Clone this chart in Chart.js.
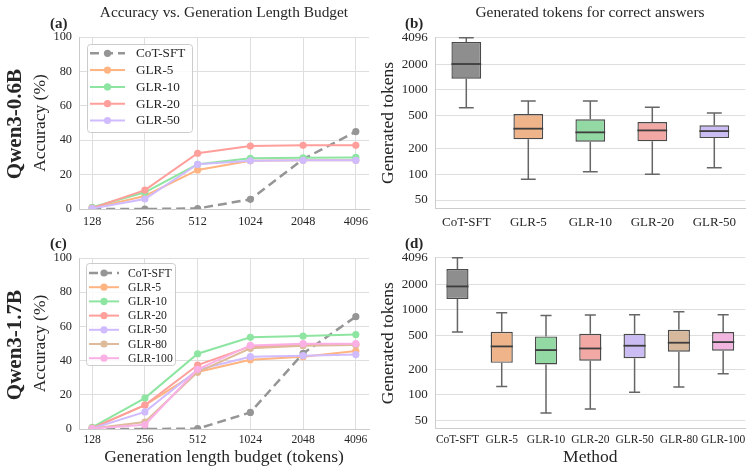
<!DOCTYPE html>
<html><head><meta charset="utf-8">
<script src="https://cdn.jsdelivr.net/npm/chart.js@4.4.1/dist/chart.umd.min.js"></script>
<style>
html,body{margin:0;padding:0;background:#fff;}
#wrap{position:relative;width:752px;height:474px;overflow:hidden;font-family:'Liberation Serif','Times New Roman',serif;color:#262626;}
canvas{position:absolute;}
.t{position:absolute;white-space:nowrap;line-height:1;}
.rot{transform:translate(-50%,-50%) rotate(-90deg);}
</style></head><body>
<div id="wrap">
<canvas id="ca" width="376" height="237" style="left:0;top:0"></canvas>
<canvas id="cb" width="376" height="237" style="left:376px;top:0"></canvas>
<canvas id="cc" width="376" height="237" style="left:0;top:237px"></canvas>
<canvas id="cd" width="376" height="237" style="left:376px;top:237px"></canvas>
<div class="t" style="left:224px;top:3.8px;font-size:15.4px;transform:translateX(-50%)">Accuracy vs. Generation Length Budget</div>
<div class="t" style="left:590px;top:3.8px;font-size:15.4px;transform:translateX(-50%)">Generated tokens for correct answers</div>
<div class="t" style="left:50px;top:16.4px;font-size:15px;font-weight:bold">(a)</div>
<div class="t" style="left:405px;top:16.4px;font-size:15px;font-weight:bold">(b)</div>
<div class="t" style="left:50px;top:236.4px;font-size:15px;font-weight:bold">(c)</div>
<div class="t" style="left:405px;top:236.4px;font-size:15px;font-weight:bold">(d)</div>
<div class="t rot" style="left:13.6px;top:124px;font-size:21px;font-weight:bold">Qwen3-0.6B</div>
<div class="t rot" style="left:13.6px;top:345px;font-size:21px;font-weight:bold">Qwen3-1.7B</div>
</div>
<script>
// ---------- data ----------
const budgets = [128, 256, 512, 1024, 2048, 4096];

const a_cot   = [0, 0, 0.3, 5.6, 29, 45];
const a_glr5  = [0.5, 7.6, 22.7, 28, 28.3, 28.3];
const a_glr10 = [1, 9.7, 26, 29.5, 29.8, 30];
const a_glr20 = [0.5, 11, 32.4, 36.6, 37, 37];
const a_glr50 = [0.3, 5.8, 26, 28, 28.3, 28.3];

const c_cot    = [0, 0, 0.2, 9.7, 44.2, 65.7];
const c_glr5   = [0.5, 14, 33.3, 40.5, 42.3, 45.6];
const c_glr10  = [1, 18.1, 44, 53.6, 54.4, 55.2];
const c_glr20  = [0.5, 14, 37.4, 48.3, 49.1, 49.5];
const c_glr50  = [0.3, 10, 34.7, 42.3, 42.9, 43.5];
const c_glr80  = [0.3, 4.1, 33.3, 47.2, 48.7, 49.1];
const c_glr100 = [0.3, 2.5, 34.9, 48.9, 49.9, 49.9];

const methodsB = ['CoT-SFT', 'GLR-5', 'GLR-10', 'GLR-20', 'GLR-50'];
const b_low  = [613, 88, 108, 101, 120];
const b_q1   = [1347, 260, 244, 246, 269];
const b_med  = [2006, 347, 314, 331, 325];
const b_q3   = [3646, 516, 447, 416, 380];
const b_high = [4096, 735, 735, 619, 530];

const methodsD = ['CoT-SFT', 'GLR-5', 'GLR-10', 'GLR-20', 'GLR-50', 'GLR-80', 'GLR-100'];
const d_low  = [547, 125, 61, 68, 107, 124, 177];
const d_q1   = [1336, 238, 228, 252, 270, 321, 330];
const d_med  = [1882, 371, 336, 351, 378, 410, 417];
const d_q3   = [3009, 552, 486, 522, 522, 582, 547];
const d_high = [4096, 923, 859, 867, 875, 948, 875];

const tokenTicks = [50, 100, 200, 500, 1000, 2000, 4096];
const accTicks = [0, 20, 40, 60, 80, 100];

// ---------- styles ----------
const lineColor = {'CoT-SFT':'#959595','GLR-5':'#ffb482','GLR-10':'#8de5a1','GLR-20':'#ff9f9b','GLR-50':'#d0bbff','GLR-80':'#debb9b','GLR-100':'#fab0e4'};
const boxColor  = {'CoT-SFT':'#8e8e8e','GLR-5':'#f0b48b','GLR-10':'#93d9a4','GLR-20':'#f2a8a5','GLR-50':'#cbbcf4','GLR-80':'#d6b89d','GLR-100':'#f1b5df'};
const TXT = '#262626', GRID = '#dedede', SPINE = '#cccccc';
const FAM = "'Liberation Serif','Times New Roman',serif";
Chart.defaults.font.family = FAM;
Chart.defaults.color = TXT;

const boxLegend = {
  id: 'boxLegend',
  afterDatasetsDraw(chart, args, o) {
    if (!o || !o.show) return;
    const ctx = chart.ctx;
    ctx.save();
    ctx.fillStyle = 'rgba(255,255,255,0.85)';
    ctx.strokeStyle = '#cccccc'; ctx.lineWidth = 1;
    ctx.beginPath();
    if (ctx.roundRect) ctx.roundRect(o.x + 0.5, o.y + 0.5, o.w, o.h, 3); else ctx.rect(o.x + 0.5, o.y + 0.5, o.w, o.h);
    ctx.fill(); ctx.stroke();
    chart.data.datasets.forEach((ds, i) => {
      const y = o.first + i * o.rowH;
      ctx.strokeStyle = ds.borderColor; ctx.lineWidth = ds.borderWidth;
      ctx.setLineDash(ds.borderDash || []);
      ctx.beginPath(); ctx.moveTo(o.l0, y); ctx.lineTo(o.l1, y); ctx.stroke();
      ctx.setLineDash([]);
      ctx.fillStyle = ds.borderColor;
      ctx.beginPath(); ctx.arc((o.l0 + o.l1) / 2, y, 3.6, 0, Math.PI * 2); ctx.fill();
      ctx.fillStyle = TXT; ctx.font = o.font + 'px ' + FAM;
      ctx.textBaseline = 'middle'; ctx.textAlign = 'left';
      ctx.fillText(ds.label, o.tx, y + 0.5);
    });
    ctx.restore();
  }
};

const boxWhiskers = {
  id: 'boxWhiskers',
  afterDatasetsDraw(chart) {
    const ds = chart.data.datasets[0];
    if (!ds.whiskerLow) return;
    const ctx = chart.ctx, ys = chart.scales.y;
    chart.getDatasetMeta(0).data.forEach((bar, i) => {
      const cx = bar.x, half = bar.width / 2, cap = bar.width / 4;
      const pl = ys.getPixelForValue(ds.whiskerLow[i]), ph = ys.getPixelForValue(ds.whiskerHigh[i]);
      const p1 = ys.getPixelForValue(ds.q1[i]), p3 = ys.getPixelForValue(ds.q3[i]);
      const pm = ys.getPixelForValue(ds.median[i]);
      ctx.save();
      ctx.strokeStyle = '#666666'; ctx.lineWidth = 1.5;
      ctx.beginPath();
      ctx.moveTo(cx, p1); ctx.lineTo(cx, pl);
      ctx.moveTo(cx, p3); ctx.lineTo(cx, ph);
      ctx.moveTo(cx - cap, pl); ctx.lineTo(cx + cap, pl);
      ctx.moveTo(cx - cap, ph); ctx.lineTo(cx + cap, ph);
      ctx.stroke();
      ctx.strokeStyle = '#3d3d3d'; ctx.lineWidth = 1.8;
      ctx.beginPath(); ctx.moveTo(cx - half, pm); ctx.lineTo(cx + half, pm); ctx.stroke();
      ctx.restore();
    });
  }
};

function lineChart(id, series, cfg) {
  const n = series.length;
  return new Chart(document.getElementById(id), {
    type: 'line',
    data: { datasets: series.map((s, i) => ({
      label: s[0],
      data: budgets.map((b, j) => ({x: b, y: s[1][j]})),
      borderColor: lineColor[s[0]], backgroundColor: lineColor[s[0]],
      pointBackgroundColor: lineColor[s[0]], pointBorderWidth: 0,
      borderWidth: s[0] === 'CoT-SFT' ? 2.5 : 2,
      borderDash: s[0] === 'CoT-SFT' ? [9, 5] : [],
      pointRadius: 3.6, tension: 0, order: n - i
    }))},
    options: {
      responsive: false, animation: false, events: [],
      layout: {padding: {top: cfg.top, right: cfg.right, left: 0, bottom: 0}},
      plugins: {legend: {display: false}, tooltip: {enabled: false}, boxLegend: cfg.legend},
      scales: {
        x: {
          type: 'logarithmic', min: budgets[0] / Math.pow(2, 0.25), max: budgets[budgets.length - 1] * Math.pow(2, 0.25),
          afterBuildTicks: s => { s.ticks = budgets.map(v => ({value: v})); },
          afterFit: s => { s.height = cfg.xh; },
          ticks: {callback: v => String(v), font: {size: cfg.xfont}, color: TXT, padding: cfg.xpad, maxRotation: 0, autoSkip: false},
          grid: {color: GRID, drawTicks: false},
          border: {color: SPINE},
          title: cfg.xtitle ? {display: true, text: cfg.xtitle, font: {size: 17.5}, color: TXT, padding: {top: 0, bottom: 5.8}} : {display: false}
        },
        y: {
          type: 'linear', min: 0, max: 100,
          afterBuildTicks: s => { s.ticks = accTicks.map(v => ({value: v})); },
          afterFit: s => { s.width = 79; },
          ticks: {font: {size: 12.3}, color: TXT, padding: 7},
          grid: {color: GRID, drawTicks: false},
          border: {color: SPINE},
          title: {display: true, text: 'Accuracy (%)', font: {size: 17.5}, color: TXT, padding: {top: 30, bottom: 0}}
        }
      }
    },
    plugins: [boxLegend]
  });
}

function boxChart(id, methods, low, q1, med, q3, high, cfg) {
  return new Chart(document.getElementById(id), {
    type: 'bar',
    data: {
      labels: methods,
      datasets: [{
        data: q1.map((v, i) => [v, q3[i]]),
        whiskerLow: low, whiskerHigh: high, q1: q1, q3: q3, median: med,
        backgroundColor: methods.map(m => boxColor[m]),
        borderColor: '#4a4a4a', borderWidth: 1.4, borderSkipped: false,
        barPercentage: cfg.bp, categoryPercentage: 1
      }]
    },
    options: {
      responsive: false, animation: false, events: [],
      layout: {padding: {top: cfg.top, right: cfg.right, left: 0, bottom: 0}},
      plugins: {legend: {display: false}, tooltip: {enabled: false}},
      scales: {
        x: {
          type: 'category',
          afterFit: s => { s.height = cfg.xh; },
          ticks: {font: {size: cfg.xfont}, color: TXT, padding: cfg.xpad, maxRotation: 0, autoSkip: false},
          grid: {display: false, drawTicks: false},
          border: {color: SPINE},
          title: cfg.xtitle ? {display: true, text: cfg.xtitle, font: {size: 17.5}, color: TXT, padding: {top: 0, bottom: 5.8}} : {display: false}
        },
        y: {
          type: 'logarithmic', min: 40, max: 4096,
          afterBuildTicks: s => { s.ticks = tokenTicks.map(v => ({value: v})); },
          afterFit: s => { s.width = 59.3; },
          ticks: {callback: v => String(v), font: {size: 13}, color: TXT, padding: 7.6},
          grid: {color: GRID, drawTicks: false},
          border: {color: SPINE},
          title: {display: true, text: 'Generated tokens', font: {size: 17.5}, color: TXT, padding: {top: 2, bottom: 0}}
        }
      }
    },
    plugins: [boxWhiskers]
  });
}

lineChart('ca', [['CoT-SFT', a_cot], ['GLR-5', a_glr5], ['GLR-10', a_glr10], ['GLR-20', a_glr20], ['GLR-50', a_glr50]],
  {top: 37, right: 7, xh: 28, xfont: 12.2, xpad: 5.6,
   legend: {show: true, x: 87, y: 44, w: 105, h: 88, first: 53.3, rowH: 16.8, l0: 90, l1: 125, tx: 136, font: 13.2}});
lineChart('cc', [['CoT-SFT', c_cot], ['GLR-5', c_glr5], ['GLR-10', c_glr10], ['GLR-20', c_glr20], ['GLR-50', c_glr50], ['GLR-80', c_glr80], ['GLR-100', c_glr100]],
  {top: 21, right: 7, xh: 45, xfont: 11.6, xpad: 4.3, xtitle: 'Generation length budget (tokens)',
   legend: {show: true, x: 86, y: 26, w: 89, h: 102, first: 36, rowH: 14.2, l0: 89, l1: 119, tx: 128, font: 11.7}});
boxChart('cb', methodsB, b_low, b_q1, b_med, b_q3, b_high, {top: 37.7, right: 6.7, xh: 28.7, xfont: 13, xpad: 6.2, bp: 0.48});
boxChart('cd', methodsD, d_low, d_q1, d_med, d_q3, d_high, {top: 20.7, right: 6.7, xh: 45.3, xfont: 11.5, xpad: 4.8, bp: 0.5, xtitle: 'Method'});
</script>
</body></html>
